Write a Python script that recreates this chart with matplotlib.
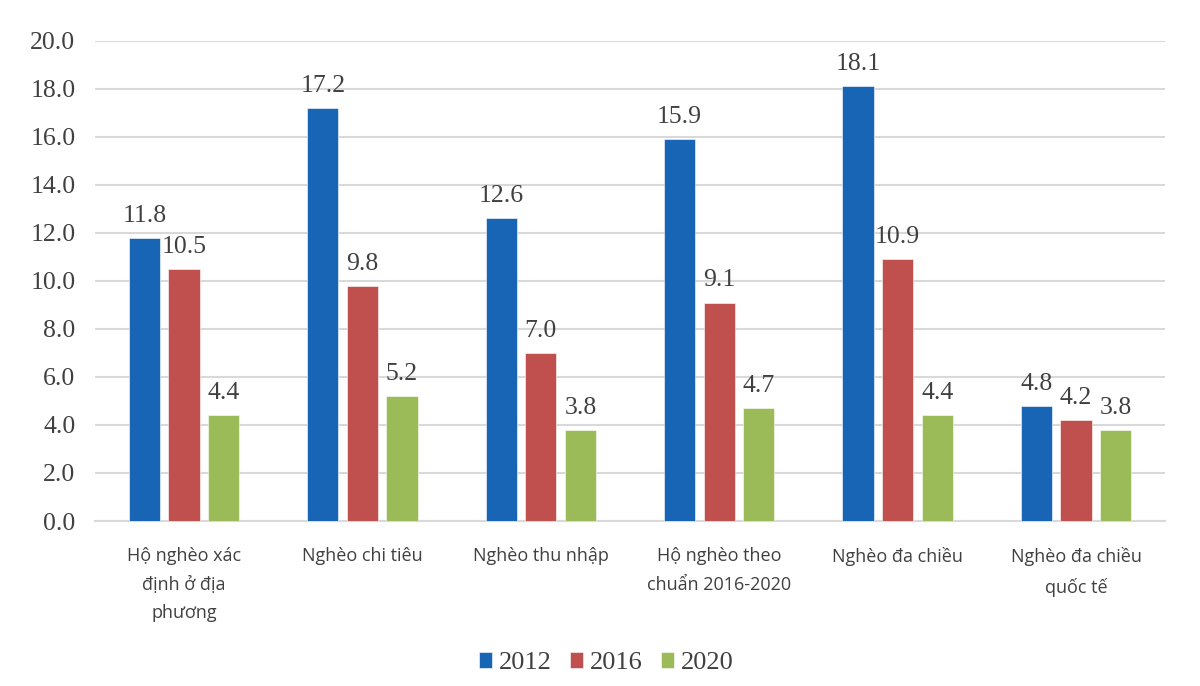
import numpy as np
import matplotlib.pyplot as plt

categories = ['Hộ nghèo xác\nđịnh ở địa\nphương', 'Nghèo chi tiêu', 'Nghèo thu nhập',
              'Hộ nghèo theo\nchuẩn 2016-2020', 'Nghèo đa chiều', 'Nghèo đa chiều\nquốc tế']
years = ['2012', '2016', '2020']
v2012 = [11.8, 17.2, 12.6, 15.9, 18.1, 4.8]
v2016 = [10.5, 9.8, 7.0, 9.1, 10.9, 4.2]
v2020 = [4.4, 5.2, 3.8, 4.7, 4.4, 3.8]
colors = ['#1765B4', '#C0504D', '#9BBB59']

serif = ['Liberation Serif', 'DejaVu Serif']
sans = ['Open Sans', 'DejaVu Sans']
txt = '#404040'

fig = plt.figure(figsize=(12, 6.86), dpi=100)
ax = fig.add_axes([0.079, 0.2405, 0.892, 0.70])

x = np.arange(len(categories))
w = 0.175
step = 0.222
bars = []
for i, (vals, yr) in enumerate(zip([v2012, v2016, v2020], years)):
    b = ax.bar(x + (i - 1) * step, vals, w, color=colors[i], label=yr, zorder=3,
               edgecolor='white', linewidth=0.4)
    bars.append(b)
    for xi, v in zip(x + (i - 1) * step, vals):
        ax.annotate(f'{v:.1f}', (xi, v), xytext=(0, 8), textcoords='offset points',
                    ha='center', va='bottom', fontsize=18.5, family=serif, color=txt)

ax.set_xlim(-0.5, len(categories) - 0.5)
ax.set_ylim(0, 20)
ax.set_yticks(np.arange(0, 21, 2))
ax.set_yticklabels([f'{t:.1f}' for t in np.arange(0, 21, 2)], family=serif,
                   fontsize=18.5, color=txt)
ax.yaxis.grid(True, color='#d9d9d9', linewidth=1.5, zorder=0)
ax.tick_params(axis='y', length=0, pad=14)
ax.set_xticks(x)
ax.set_xticklabels(categories, family=sans, fontsize=13, color=txt, linespacing=1.75)
ax.tick_params(axis='x', length=0, pad=19)
for s in ['top', 'right', 'left']:
    ax.spines[s].set_visible(False)
ax.spines['bottom'].set_color('#d9d9d9')
ax.spines['bottom'].set_linewidth(1.5)

leg = fig.legend(handles=bars, labels=years, loc='center', bbox_to_anchor=(0.505, 0.033),
                 ncol=3, frameon=False, prop={'family': serif, 'size': 19},
                 handlelength=0.5, handleheight=0.5, handletextpad=0.25, columnspacing=0.7)
for t in leg.get_texts():
    t.set_color(txt)

fig.savefig('out.png', dpi=100)
